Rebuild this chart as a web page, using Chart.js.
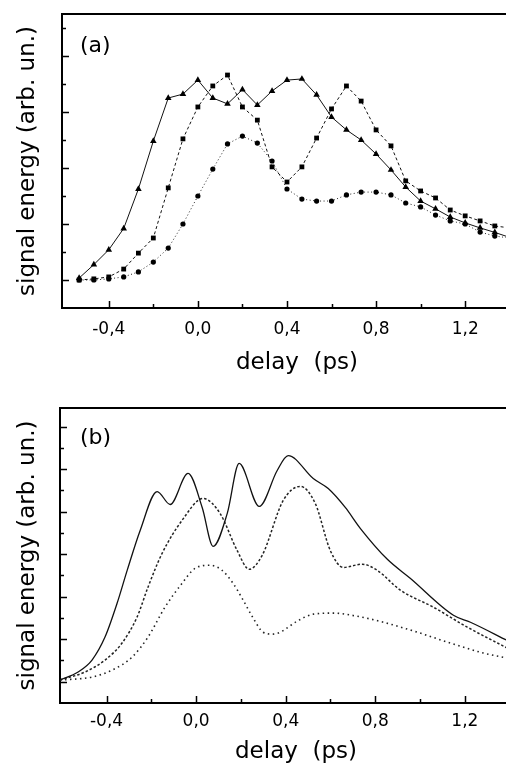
<!DOCTYPE html>
<html>
<head>
<meta charset="utf-8">
<script src="https://cdn.jsdelivr.net/npm/chart.js@4.4.1/dist/chart.umd.min.js"></script>
<style>
	html, body { margin: 0; padding: 0; background: #fff; overflow: hidden; width: 506px; height: 773px; }
	canvas { display: block; position: absolute; left: 0; }
	#chartA { top: 0; }
	#chartB { top: 386px; }
</style>
</head>
<body>
<canvas id="chartA" width="545" height="386"></canvas>
<canvas id="chartB" width="545" height="387"></canvas>
<script>
/* Painel (a): medidas, atraso em ps */
var delaysA = [
	-0.533, -0.467, -0.4, -0.333, -0.267, -0.2, -0.133, -0.067, 0, 0.067,
	0.133, 0.2, 0.267, 0.333, 0.4, 0.467, 0.533, 0.6, 0.667, 0.733,
	0.8, 0.867, 0.933, 1.0, 1.067, 1.133, 1.2, 1.267, 1.333, 1.4
];
var triangles = [
	1.07, 1.55, 2.08, 2.84, 4.25, 5.96, 7.5, 7.64, 8.14, 7.5,
	7.29, 7.8, 7.25, 7.75, 8.14, 8.18, 7.61, 6.82, 6.36, 6.0,
	5.5, 4.93, 4.32, 3.82, 3.54, 3.25, 3.04, 2.86, 2.7, 2.52
];
var squares = [
	1.0, 1.04, 1.11, 1.39, 1.96, 2.5, 4.29, 6.04, 7.18, 7.93,
	8.32, 7.18, 6.71, 5.04, 4.5, 5.04, 6.07, 7.11, 7.93, 7.39,
	6.36, 5.79, 4.54, 4.18, 3.93, 3.5, 3.29, 3.11, 2.93, 2.86
];
var circles = [
	1.0, 1.0, 1.04, 1.11, 1.29, 1.64, 2.14, 3.0, 4.0, 4.96,
	5.86, 6.14, 5.89, 5.25, 4.25, 3.89, 3.82, 3.82, 4.04, 4.14,
	4.14, 4.04, 3.75, 3.61, 3.32, 3.11, 3.0, 2.71, 2.57, 2.5
];

/* Painel (b): curvas calculadas */
var solidDelays = [
	-0.608, -0.527, -0.465, -0.407, -0.353, -0.308, -0.25, -0.174, -0.116, -0.036,
	0.027, 0.076, 0.139, 0.192, 0.282, 0.362, 0.411, 0.523, 0.59, 0.666,
	0.733, 0.854, 0.956, 1.149, 1.225, 1.39
];
var solidValues = [
	1.08, 1.46, 2.02, 3.1, 4.69, 6.24, 8.12, 9.95, 9.34, 10.8,
	9.2, 7.37, 8.92, 11.27, 9.25, 10.94, 11.64, 10.56, 10.09, 9.2,
	8.22, 6.76, 5.87, 4.13, 3.8, 2.94
];
var dashedDelays = [
	-0.608, -0.496, -0.407, -0.331, -0.264, -0.215, -0.152, -0.063, 0.031, 0.107,
	0.183, 0.237, 0.295, 0.389, 0.465, 0.532, 0.599, 0.657, 0.742, 0.809,
	0.912, 1.059, 1.211, 1.39
];
var dashedValues = [
	1.08, 1.46, 2.02, 2.82, 4.04, 5.45, 7.04, 8.59, 9.62, 8.92,
	7.18, 6.29, 6.95, 9.53, 10.19, 9.39, 7.18, 6.38, 6.53, 6.24,
	5.31, 4.51, 3.57, 2.58
];
var dottedDelays = [
	-0.608, -0.465, -0.375, -0.286, -0.215, -0.139, -0.063, -0.004, 0.063, 0.116,
	0.165, 0.21, 0.255, 0.299, 0.34, 0.375, 0.451, 0.523, 0.612, 0.72,
	0.836, 0.988, 1.135, 1.283, 1.39
];
var dottedValues = [
	1.08, 1.22, 1.55, 2.16, 3.1, 4.51, 5.63, 6.34, 6.48, 6.24,
	5.63, 4.84, 3.99, 3.33, 3.24, 3.33, 3.85, 4.18, 4.23, 4.08,
	3.8, 3.33, 2.82, 2.35, 2.11
];

/* Marcas dos eixos */
var xLabelTicks = [-0.4, 0.0, 0.4, 0.8, 1.2];
var xAllTicks = [-0.4, -0.2, 0.0, 0.2, 0.4, 0.6, 0.8, 1.0, 1.2, 1.4];
var yTicksA = [1, 2, 3, 4, 5, 6, 7, 8, 9, 10];
var yTicksB = [1, 2, 3, 4, 5, 6, 7, 8, 9, 10, 11, 12, 13];

var fonte = '"DejaVu Sans", sans-serif';

var pares = function(xs, ys) {
	return xs.map(function(x, i) {
		return { x: x, y: ys[i] };
	});
};

/* Moldura: linha de cima, marcas para dentro e letra do painel */
var moldura = {
	id: "moldura",
	afterDraw: function(chart, args, opts) {
		var ctx = chart.ctx;
		var area = chart.chartArea;
		var sx = chart.scales.x;
		var sy = chart.scales.y;
		ctx.save();
		ctx.strokeStyle = "#000";
		ctx.lineWidth = 2;
		ctx.beginPath();
		ctx.moveTo(area.left, area.top);
		ctx.lineTo(area.right, area.top);
		ctx.stroke();

		ctx.lineWidth = 1.5;
		ctx.beginPath();
		xAllTicks.forEach(function(v) {
			var px = Math.round(sx.getPixelForValue(v)) + 0.5;
			var major = Math.abs(v / 0.4 - Math.round(v / 0.4)) < 1e-6;
			ctx.moveTo(px, area.bottom);
			ctx.lineTo(px, area.bottom - (major ? 7 : 4));
		});
		opts.yTicks.forEach(function(v) {
			var py = Math.round(sy.getPixelForValue(v)) + 0.5;
			ctx.moveTo(area.left, py);
			ctx.lineTo(area.left + (v % 2 === 1 ? 7 : 4), py);
		});
		ctx.stroke();

		ctx.fillStyle = "#000";
		ctx.font = "22px " + fonte;
		ctx.textBaseline = "middle";
		ctx.fillText(opts.label, area.left + opts.dx, area.top + opts.dy);
		ctx.restore();
	}
};

var criarOpcoes = function(cfg) {
	return {
		responsive: false,
		animation: false,
		devicePixelRatio: 1,
		layout: { padding: { top: cfg.top, right: 13, left: 0, bottom: 0 } },
		plugins: {
			legend: { display: false },
			tooltip: { enabled: false },
			moldura: { label: cfg.label, yTicks: cfg.yTicks, dx: cfg.dx, dy: cfg.dy }
		},
		scales: {
			x: {
				type: "linear",
				min: cfg.xmin,
				max: 1.5,
				afterFit: function(scale) { scale.height = cfg.xHeight; },
				afterBuildTicks: function(scale) {
					scale.ticks = xLabelTicks.map(function(v) { return { value: v }; });
				},
				grid: { display: false, drawTicks: false },
				border: { display: true, color: "#000", width: 2 },
				ticks: {
					padding: cfg.tickPad,
					color: "#000",
					maxRotation: 0,
					font: { family: fonte, size: 17 },
					callback: function(v) { return Number(v).toFixed(1).replace(".", ","); }
				},
				title: {
					display: true,
					text: "delay  (ps)",
					color: "#000",
					font: { family: fonte, size: 23 },
					padding: { top: 0, bottom: cfg.titlePad }
				}
			},
			y: {
				min: 0,
				max: cfg.ymax,
				afterFit: function(scale) { scale.width = cfg.yWidth; },
				grid: { display: false, drawTicks: false },
				border: { display: true, color: "#000", width: 2 },
				ticks: { display: false },
				title: {
					display: true,
					text: "signal energy (arb. un.)",
					color: "#000",
					font: { family: fonte, size: 23 },
					padding: { top: 14, bottom: 0 }
				}
			}
		}
	};
};

/* Criar grafico (a) */
var chartA = new Chart(document.getElementById("chartA"), {
	type: "line",
	data: {
		datasets: [
			{
				data: pares(delaysA, triangles),
				borderColor: "#111",
				backgroundColor: "#000",
				borderWidth: 1,
				pointStyle: "triangle",
				pointRadius: 3.8,
				pointBorderWidth: 0,
				tension: 0
			},
			{
				data: pares(delaysA, squares),
				borderColor: "#111",
				backgroundColor: "#000",
				borderWidth: 1,
				borderDash: [3, 2.5],
				pointStyle: "rect",
				pointRadius: 3.4,
				pointBorderWidth: 0,
				tension: 0
			},
			{
				data: pares(delaysA, circles),
				borderColor: "#222",
				backgroundColor: "#000",
				borderWidth: 1,
				borderDash: [1, 2.5],
				pointStyle: "circle",
				pointRadius: 2.6,
				pointBorderWidth: 0,
				tension: 0
			}
		]
	},
	options: criarOpcoes({
		top: 14, xmin: -0.61, ymax: 10.5, xHeight: 78, yWidth: 62,
		tickPad: 11, titlePad: 9, label: "(a)", yTicks: yTicksA, dx: 18, dy: 32
	}),
	plugins: [moldura]
});

/* Criar grafico (b) */
var chartB = new Chart(document.getElementById("chartB"), {
	type: "line",
	data: {
		datasets: [
			{
				data: pares(solidDelays, solidValues),
				borderColor: "#111",
				borderWidth: 1.3,
				pointRadius: 0,
				cubicInterpolationMode: "monotone"
			},
			{
				data: pares(dashedDelays, dashedValues),
				borderColor: "#222",
				borderWidth: 1.5,
				borderDash: [2.5, 2],
				pointRadius: 0,
				cubicInterpolationMode: "monotone"
			},
			{
				data: pares(dottedDelays, dottedValues),
				borderColor: "#222",
				borderWidth: 1.6,
				borderDash: [1.5, 3.5],
				pointRadius: 0,
				cubicInterpolationMode: "monotone"
			}
		]
	},
	options: criarOpcoes({
		top: 22, xmin: -0.608, ymax: 13.88, xHeight: 70, yWidth: 60,
		tickPad: 8, titlePad: 7, label: "(b)", yTicks: yTicksB, dx: 20, dy: 30
	}),
	plugins: [moldura]
});
</script>
</body>
</html>
